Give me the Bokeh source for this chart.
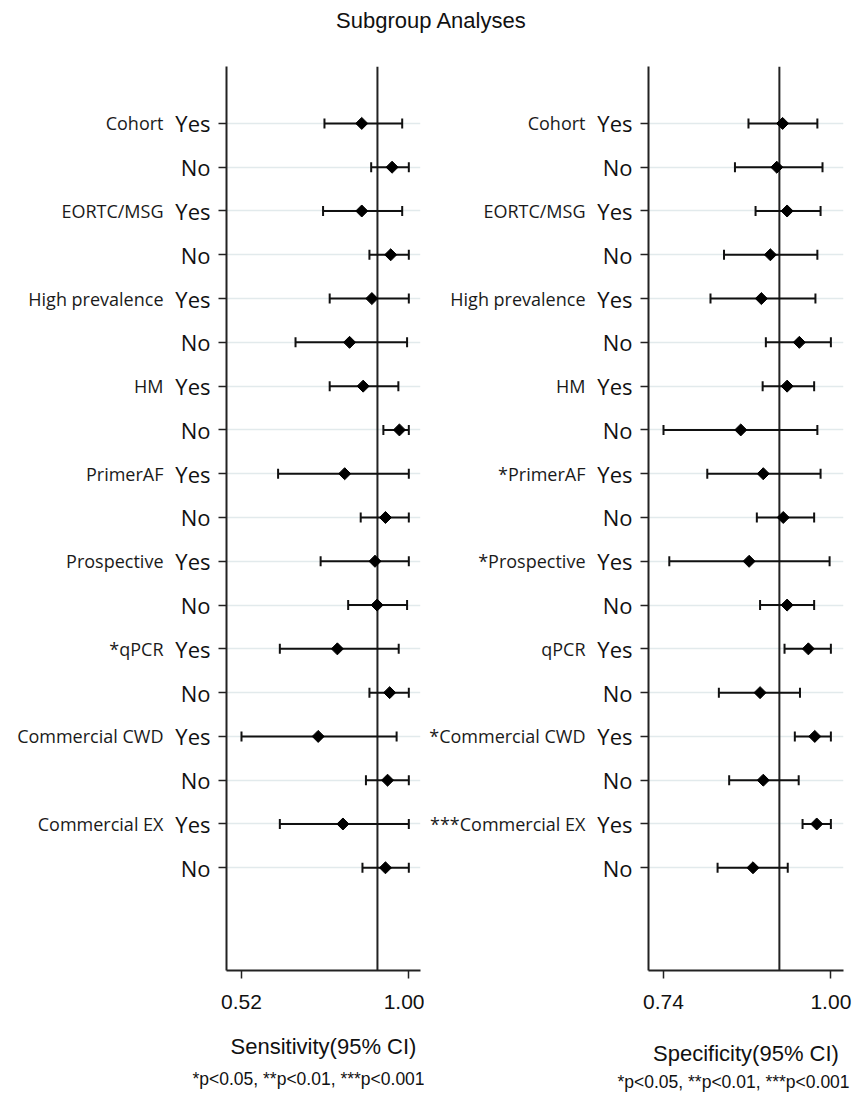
import math
from bokeh.plotting import figure
from bokeh.models import (Range1d, FixedTicker, Span, Whisker, TeeHead,
                          ColumnDataSource, Title, NumeralTickFormatter,
                          LinearAxis)
from bokeh.layouts import column, row
from bokeh.embed import file_html
from bokeh.resources import INLINE

# ---------------- data ----------------
sens_groups = ["Cohort", "EORTC/MSG", "High prevalence", "HM", "PrimerAF",
               "Prospective", "*qPCR", "Commercial CWD", "Commercial EX"]
spec_groups = ["Cohort", "EORTC/MSG", "High prevalence", "HM", "*PrimerAF",
               "*Prospective", "qPCR", "*Commercial CWD", "***Commercial EX"]
levels = ["Yes", "No"] * 9

sens_est = [0.865, 0.952, 0.865, 0.948, 0.894, 0.830, 0.869, 0.973, 0.816,
            0.933, 0.903, 0.909, 0.795, 0.945, 0.740, 0.939, 0.811, 0.933]
sens_lo = [0.758, 0.892, 0.754, 0.887, 0.773, 0.675, 0.773, 0.927, 0.625,
           0.862, 0.747, 0.826, 0.630, 0.887, 0.520, 0.877, 0.630, 0.867]
sens_hi = [0.981, 1.000, 0.981, 1.000, 1.000, 0.995, 0.970, 1.000, 1.000,
           1.000, 1.000, 0.995, 0.971, 1.000, 0.965, 1.000, 1.000, 1.000]

spec_est = [0.925, 0.916, 0.932, 0.906, 0.892, 0.951, 0.932, 0.860, 0.895,
            0.926, 0.873, 0.932, 0.965, 0.890, 0.975, 0.895, 0.978, 0.879]
spec_lo = [0.872, 0.851, 0.883, 0.834, 0.813, 0.899, 0.894, 0.740, 0.808,
           0.885, 0.749, 0.890, 0.928, 0.826, 0.944, 0.842, 0.956, 0.824]
spec_hi = [0.979, 0.987, 0.984, 0.979, 0.976, 1.000, 0.974, 0.979, 0.984,
           0.974, 0.998, 0.974, 1.000, 0.952, 1.000, 0.950, 1.000, 0.933]

pooled_sens = 0.91
pooled_spec = 0.92
sens_ticks = [0.52, 1.00]
spec_ticks = [0.74, 1.00]
title_text = "Subgroup Analyses"
footnote = "*p<0.05, **p<0.01, ***p<0.001"

rows_y = list(range(len(levels), 0, -1))

INK = "#111111"
LABEL_FONT = "Open Sans"
AX_FONT = "Liberation Sans"


def make_panel(groups, est, lo, hi, pooled, ticks, xr, xlabel,
               width, border_left, border_right, label_standoff,
               foot_offset, foot_standoff):
    p = figure(width=width, height=1046, output_backend="svg",
               toolbar_location=None,
               x_range=Range1d(*xr), y_range=Range1d(-1.346, 19.30),
               min_border_left=border_left, min_border_right=border_right,
               min_border_top=18, min_border_bottom=119)
    p.outline_line_color = None
    p.background_fill_color = "white"
    p.border_fill_color = "white"

    src = ColumnDataSource(dict(y=rows_y, est=est, lo=lo, hi=hi))

    # grid
    p.xgrid.visible = False
    p.ygrid.ticker = FixedTicker(ticks=rows_y)
    p.ygrid.grid_line_color = "#e2eaec"
    p.ygrid.grid_line_width = 1.5

    # reference line
    ref = Span(location=pooled, dimension="height", line_color="#222222",
               line_width=2)
    ref.level = "underlay"
    p.add_layout(ref)

    w = Whisker(source=src, base="y", lower="lo", upper="hi",
                dimension="width", line_color=INK, line_width=2,
                lower_head=TeeHead(size=10, line_color=INK, line_width=2),
                upper_head=TeeHead(size=10, line_color=INK, line_width=2))
    w.level = "underlay"
    p.add_layout(w)

    p.scatter(x="est", y="y", source=src, marker="square",
              angle=math.pi / 4, size=8.5, fill_color="black",
              line_color="black")

    # y axis with Yes / No
    yax = p.yaxis[0]
    yax.ticker = FixedTicker(ticks=rows_y)
    yax.major_label_overrides = {float(r): lv for r, lv in zip(rows_y, levels)}
    yax.major_label_text_font = LABEL_FONT
    yax.major_label_text_font_size = "22px"
    yax.major_label_text_color = INK
    yax.major_label_standoff = 8
    yax.major_tick_out = 8
    yax.major_tick_in = 0
    yax.minor_tick_line_color = None
    yax.axis_line_width = 2
    yax.axis_line_color = "#222222"
    yax.major_tick_line_width = 1.5
    yax.major_tick_line_color = "#222222"

    # second left axis carrying the subgroup names
    names = {}
    for i, r in enumerate(rows_y):
        names[float(r)] = groups[i // 2] if i % 2 == 0 else ""
    gax = LinearAxis(ticker=FixedTicker(ticks=rows_y),
                     major_label_overrides=names)
    gax.axis_line_color = None
    gax.major_tick_line_color = None
    gax.minor_tick_line_color = None
    gax.major_tick_out = 0
    gax.major_tick_in = 0
    gax.major_label_standoff = 9
    gax.major_label_text_font = LABEL_FONT
    gax.major_label_text_font_size = "18px"
    gax.major_label_text_color = "#1a1a1a"
    p.add_layout(gax, "left")

    # x axis
    xax = p.xaxis[0]
    xax.ticker = FixedTicker(ticks=ticks)
    xax.formatter = NumeralTickFormatter(format="0.00")
    xax.major_label_text_font = AX_FONT
    xax.major_label_text_font_size = "21px"
    xax.major_label_text_color = INK
    xax.major_label_standoff = 16
    xax.major_tick_out = 8
    xax.major_tick_in = 0
    xax.minor_tick_line_color = None
    xax.axis_line_width = 2
    xax.axis_line_color = "#222222"
    xax.major_tick_line_width = 1.5
    xax.major_tick_line_color = "#222222"
    xax.axis_label = xlabel
    xax.axis_label_text_font = AX_FONT
    xax.axis_label_text_font_size = "22px"
    xax.axis_label_text_font_style = "normal"
    xax.axis_label_text_color = INK
    xax.axis_label_standoff = label_standoff

    p.add_layout(Title(text=footnote, align="left", offset=foot_offset,
                       text_font=AX_FONT, text_font_size="17.5px",
                       text_font_style="normal", text_color=INK,
                       standoff=foot_standoff), "below")
    return p


p1 = make_panel(sens_groups, sens_est, sens_lo, sens_hi, pooled_sens,
                sens_ticks, (0.477, 1.0335), "Sensitivity(95% CI)",
                424, 226, 4, 22, -34, 11)
p2 = make_panel(spec_groups, spec_est, spec_lo, spec_hi, pooled_spec,
                spec_ticks, (0.7167, 1.0196), "Specificity(95% CI)",
                438, 224, 19, 29, -31, 3)

t = figure(width=862, height=48, output_backend="svg", toolbar_location=None,
           x_axis_type=None, y_axis_type=None, min_border=0,
           x_range=Range1d(0, 1), y_range=Range1d(0, 1))
t.outline_line_color = None
t.xgrid.visible = False
t.ygrid.visible = False
t.title.text = title_text
t.title.align = "center"
t.title.text_font = AX_FONT
t.title.text_font_size = "22px"
t.title.text_font_style = "normal"
t.title.text_color = INK

layout = column(t, row(p1, p2))

open("out.html", "w").write(file_html(layout, INLINE))
